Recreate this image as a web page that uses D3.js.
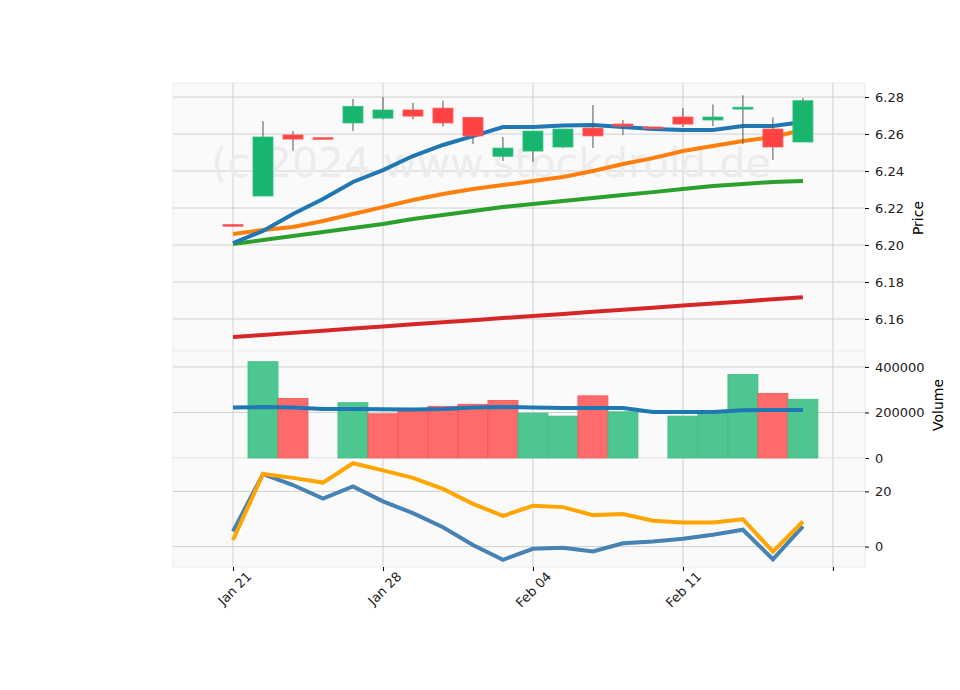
<!DOCTYPE html>
<html lang="en">
<head>
<meta charset="UTF-8">
<script src="https://d3js.org/d3.v7.min.js"></script>
<style>
  body { margin: 0; background: #fff; }
  text { font-family: "DejaVu Sans", sans-serif; }
</style>
</head>
<body>
<div id="chart"></div>
<script>
// trading days
const dates = ["Jan 21","Jan 22","Jan 23","Jan 24","Jan 25","Jan 28","Jan 29","Jan 30","Jan 31","Feb 01",
               "Feb 04","Feb 05","Feb 06","Feb 07","Feb 08","Feb 11","Feb 12","Feb 13","Feb 14","Feb 15"];
const tickLabels = ["Jan 21","Jan 28","Feb 04","Feb 11",""];
const tickIdx = [0,5,10,15,20];

const open  = [6.211,6.2265,6.2595,6.258,6.266,6.2686,6.273,6.274,6.269,6.248,6.2508,6.253,6.2632,6.2654,6.2638,6.2692,6.2676,6.2735,6.2627,6.2557];
const high  = [6.211,6.267,6.2616,6.258,6.279,6.280,6.2768,6.278,6.269,6.2584,6.2616,6.2627,6.2757,6.2676,6.2638,6.274,6.276,6.281,6.269,6.2795];
const low   = [6.211,6.2265,6.251,6.258,6.2616,6.268,6.268,6.264,6.2546,6.2454,6.2449,6.2524,6.2524,6.2595,6.2638,6.2638,6.2643,6.2546,6.246,6.2557];
const close = [6.2109,6.2584,6.2573,6.2579,6.275,6.273,6.2697,6.266,6.259,6.2524,6.2616,6.2627,6.259,6.2643,6.2637,6.2654,6.2692,6.2745,6.253,6.278];

const ma1 = [6.2011,6.2076,6.2168,6.2249,6.2341,6.2405,6.2481,6.2541,6.2589,6.2638,6.2638,6.2646,6.2649,6.2638,6.2627,6.2622,6.2622,6.2643,6.2643,6.2665];
const ma2 = [6.206,6.2081,6.2097,6.213,6.2168,6.2205,6.2243,6.2276,6.2303,6.2324,6.2346,6.2368,6.24,6.2438,6.247,6.2508,6.2535,6.2562,6.2584,6.2622];
const ma3 = [6.2005,6.2027,6.2049,6.207,6.2092,6.2114,6.2141,6.2162,6.2184,6.2205,6.2222,6.2238,6.2254,6.227,6.2286,6.2303,6.2319,6.233,6.2341,6.2346];
const ma4 = [6.1503,6.1514,6.1525,6.1537,6.1548,6.1559,6.1571,6.1582,6.1593,6.1605,6.1616,6.1627,6.1639,6.165,6.1661,6.1673,6.1684,6.1695,6.1707,6.1718];

const volume = [0,423000,261000,0,243000,194000,207000,227000,236000,253000,197000,184000,273000,203000,0,184000,196000,367000,284000,258000];
// volume colour follows close vs previous close
const volUp  = [1,1,0,0,1,0,0,0,0,0,1,1,0,1,0,1,1,1,0,1];
const volMA  = [221700,224000,221700,215600,215600,214000,213000,215600,221700,224000,221700,220000,220000,220000,202600,202600,202600,210000,211000,211000];

const ind1 = [5.5,26.3,22.3,17.4,21.8,16.4,12.1,7.0,0.6,-4.8,-0.8,-0.4,-1.8,1.2,1.8,2.8,4.3,6.1,-4.6,7.3];
const ind2 = [2.4,26.3,24.9,23.2,30.2,27.6,24.9,20.9,15.5,11.1,14.8,14.3,11.4,11.8,9.4,8.7,8.7,9.9,-1.8,9.1];

const W = 960, H = 690;
const L = 173, R = 865;
const svg = d3.select("#chart").append("svg").attr("width", W).attr("height", H);

const x = d3.scaleLinear().domain([-2, 21.07]).range([L, R]);
const yP = d3.scaleLinear().domain([6.1427, 6.2876]).range([351, 83]);
const yV = d3.scaleLinear().domain([0, 470000]).range([458, 351]);
const yI = d3.scaleLinear().domain([-7.4, 32.1]).range([567, 458]);

const panels = [[83, 351, yP, [6.16,6.18,6.20,6.22,6.24,6.26,6.28], d3.format(".2f")],
                [351, 458, yV, [0,200000,400000], d3.format("d")],
                [458, 567, yI, [0,20], d3.format("d")]];

panels.forEach(([t, b, y, ticks, fmt]) => {
  svg.append("rect").attr("x", L).attr("y", t).attr("width", R - L).attr("height", b - t)
     .attr("fill", "#fafafa").attr("stroke", "#ececec");
  svg.append("g").selectAll("line").data(tickIdx).join("line")
     .attr("x1", d => x(d)).attr("x2", d => x(d)).attr("y1", t).attr("y2", b)
     .attr("stroke", "#d0d0d0");
  svg.append("g").selectAll("line").data(ticks).join("line")
     .attr("x1", L).attr("x2", R).attr("y1", d => y(d)).attr("y2", d => y(d))
     .attr("stroke", "#d0d0d0");
  const ax = svg.append("g").attr("transform", `translate(${R},0)`)
     .call(d3.axisRight(y).tickValues(ticks).tickFormat(fmt).tickSize(4).tickPadding(6));
  ax.select(".domain").remove();
  ax.selectAll("text").attr("font-size", 13).attr("fill", "#222");
});

// watermark
svg.append("text").attr("x", 491).attr("y", 177).attr("text-anchor", "middle")
   .attr("font-size", 41).attr("fill", "#ececec")
   .text("(c)2024 www.stockdroid.de");

// moving averages
const line = (y) => d3.line().x((d, i) => x(i)).y(d => y(d));
[[ma4,"#d62728"],[ma3,"#2ca02c"],[ma2,"#ff7f0e"],[ma1,"#1f77b4"]].forEach(([s, c]) => {
  svg.append("path").datum(s).attr("d", line(yP)).attr("fill", "none")
     .attr("stroke", c).attr("stroke-width", 4);
});

// candles
const up = i => close[i] >= open[i];
const cg = svg.append("g");
dates.forEach((d, i) => {
  cg.append("line").attr("x1", x(i)).attr("x2", x(i)).attr("y1", yP(high[i])).attr("y2", yP(low[i]))
    .attr("stroke", "#555").attr("stroke-width", 1);
  const top = yP(Math.max(open[i], close[i])), bot = yP(Math.min(open[i], close[i]));
  cg.append("rect").attr("x", x(i) - 10).attr("width", 20)
    .attr("y", top).attr("height", Math.max(bot - top, 1.5))
    .attr("fill", up(i) ? "#18b56e" : "#ff4343")
    .attr("stroke", up(i) ? "#2ec27e" : "#ff5555").attr("stroke-width", 0.8);
});

// volume
svg.append("g").selectAll("rect").data(volume).join("rect")
   .attr("x", (d, i) => x(i) - 15).attr("width", 30)
   .attr("y", d => yV(d)).attr("height", d => 458 - yV(d))
   .attr("fill", (d, i) => volUp[i] ? "#4dc78f" : "#ff6b6b")
   .attr("stroke", (d, i) => volUp[i] ? "#3fbd83" : "#f55555").attr("stroke-width", 0.8);
svg.append("path").datum(volMA).attr("d", line(yV)).attr("fill", "none")
   .attr("stroke", "#1f77b4").attr("stroke-width", 4);

// indicator
svg.append("path").datum(ind1).attr("d", line(yI)).attr("fill", "none")
   .attr("stroke", "#4682b4").attr("stroke-width", 4);
svg.append("path").datum(ind2).attr("d", line(yI)).attr("fill", "none")
   .attr("stroke", "#ffa500").attr("stroke-width", 4);

// x axis
const xa = svg.append("g").attr("transform", "translate(0,567)")
   .call(d3.axisBottom(x).tickValues(tickIdx).tickFormat((d, i) => tickLabels[i]).tickSize(4));
xa.select(".domain").remove();
xa.selectAll("text").attr("font-size", 13).attr("fill", "#222")
  .attr("text-anchor", "end").attr("x", 6).attr("y", 16).attr("dy", "0.35em")
  .attr("transform", "rotate(-45)");

// axis titles
svg.append("text").attr("transform", "translate(923,218) rotate(-90)").attr("text-anchor", "middle")
   .attr("font-size", 14).text("Price");
svg.append("text").attr("transform", "translate(943,405) rotate(-90)").attr("text-anchor", "middle")
   .attr("font-size", 14).text("Volume");
</script>
</body>
</html>
